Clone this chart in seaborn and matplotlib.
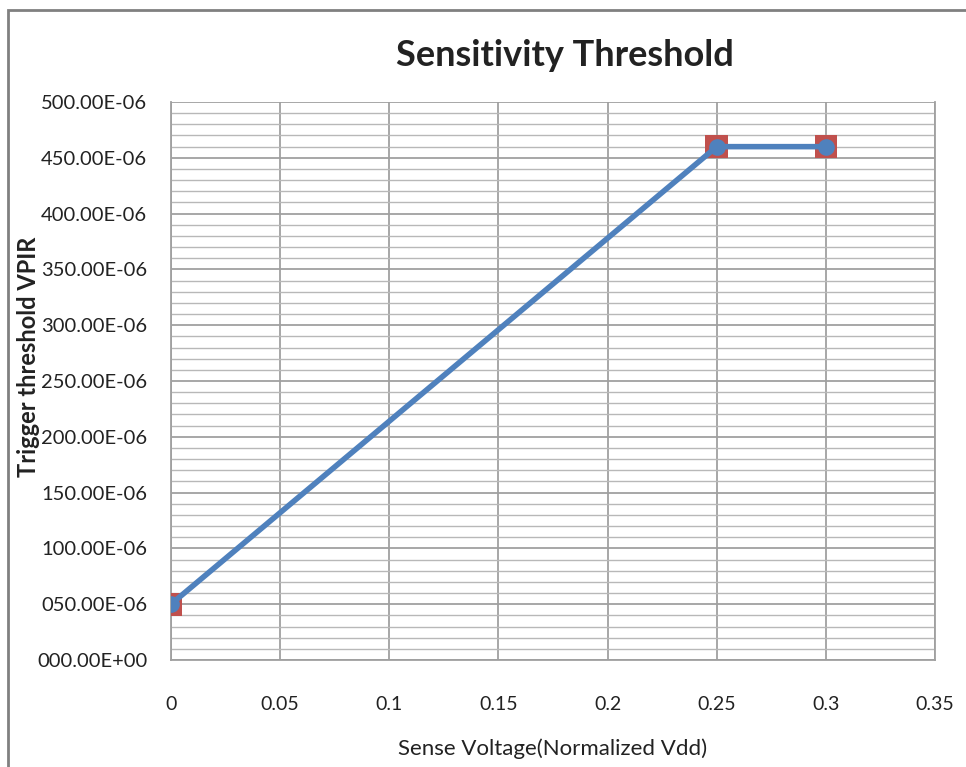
import numpy as np
import pandas as pd
import seaborn as sns
import matplotlib.pyplot as plt
from matplotlib.ticker import MultipleLocator, FuncFormatter
from matplotlib.patches import Rectangle

sense_voltage = [0.0, 0.25, 0.3]
trigger_vpir = [50e-6, 460e-6, 460e-6]

df = pd.DataFrame({"sense": sense_voltage, "vpir": trigger_vpir})

sns.set_style("white")
plt.rcParams["font.family"] = ["Lato", "DejaVu Sans"]

fig = plt.figure(figsize=(9.66, 7.67), dpi=100)
ax = fig.add_axes([0.177, 0.1395, 0.791, 0.7275])

# outer chart border (Excel chart area)
fig.patches.append(Rectangle((8 / 966, -0.1), 1.2, 1 - 10 / 767 + 0.1,
                             transform=fig.transFigure, fill=False,
                             edgecolor="#808080", linewidth=2))

# red squares underneath, blue line with round markers on top
sns.scatterplot(data=df, x="sense", y="vpir", marker="s", s=270,
                color="#C0504D", edgecolor="none", ax=ax, zorder=3)
sns.lineplot(data=df, x="sense", y="vpir", color="#4F81BD", linewidth=4,
             marker="o", markersize=12, markeredgewidth=0, ax=ax, zorder=4)

ax.set_xlim(0, 0.35)
ax.set_ylim(0, 500e-6)
ax.xaxis.set_major_locator(MultipleLocator(0.05))
ax.yaxis.set_major_locator(MultipleLocator(50e-6))
ax.yaxis.set_minor_locator(MultipleLocator(10e-6))


def y_fmt(v, pos):
    if abs(v) < 1e-12:
        return "000.00E+00"
    return f"{v * 1e6:06.2f}E-06"


def x_fmt(v, pos):
    return f"{v:.2f}".rstrip("0").rstrip(".") if v else "0"


ax.yaxis.set_major_formatter(FuncFormatter(y_fmt))
ax.xaxis.set_major_formatter(FuncFormatter(x_fmt))

ax.grid(which="major", axis="both", color="#A0A0A0", linewidth=1.3)
ax.grid(which="minor", axis="y", color="#B8B8B8", linewidth=1)
ax.set_axisbelow(True)

for side in ["left", "bottom", "right", "top"]:
    ax.spines[side].set_color("#A0A0A0")
    ax.spines[side].set_linewidth(1.3)
ax.spines["top"].set_visible(False)

ax.tick_params(axis="y", which="both", length=4, color="#A0A0A0",
               labelsize=14.5, labelcolor="#222222", pad=13)
ax.tick_params(axis="x", length=0, labelsize=14, labelcolor="#222222", pad=26)

ax.set_xlabel("Sense Voltage(Normalized Vdd)", fontsize=16, color="#222222",
              labelpad=18)
ax.set_ylabel("Trigger threshold VPIR", fontsize=17, fontweight="bold",
              color="#222222")
ax.yaxis.set_label_coords(-0.171, 0.543)
fig.text(0.585, 0.928, "Sensitivity Threshold", ha="center", va="center",
         fontsize=26, fontweight="bold", color="#222222")

fig.savefig("out.png", dpi=100, facecolor="white")
